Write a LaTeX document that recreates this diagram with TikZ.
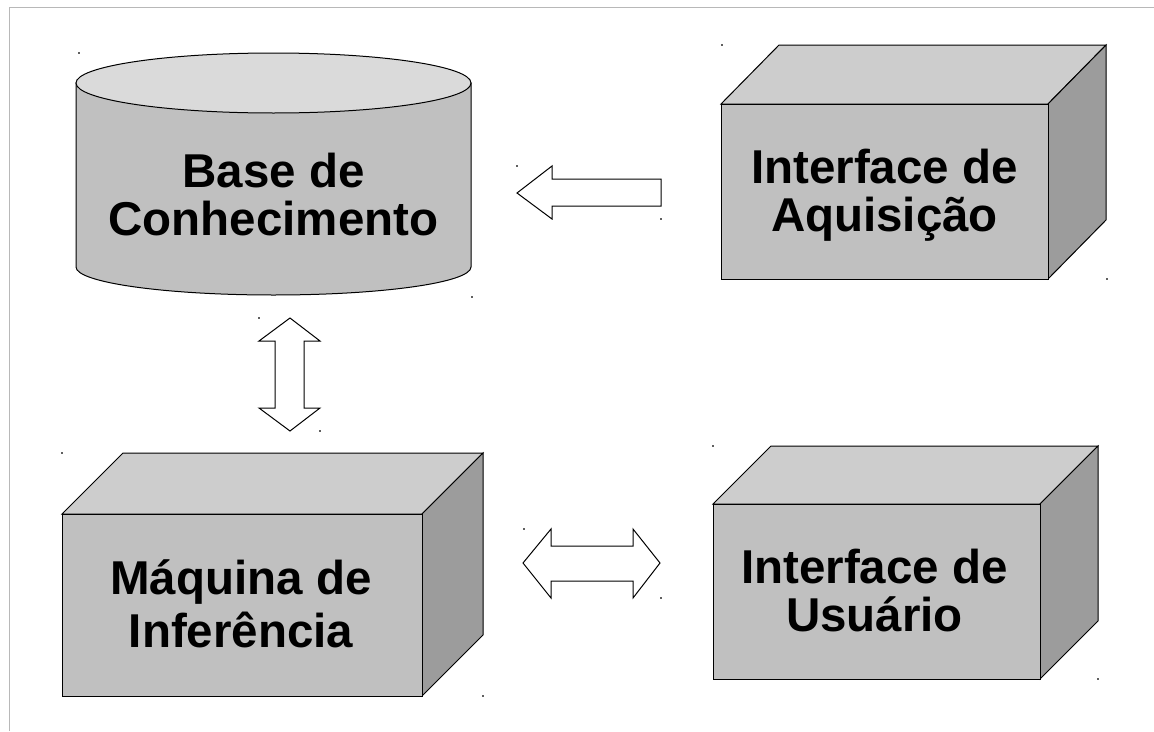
\documentclass[tikz,border=0pt]{standalone}
\usepackage{fontspec}
\setmainfont{Liberation Sans}
\definecolor{frontgray}{HTML}{C0C0C0}
\definecolor{topgray}{HTML}{CDCDCD}
\definecolor{sidegray}{HTML}{9C9C9C}
\definecolor{lidgray}{HTML}{DADADA}
\definecolor{framegray}{HTML}{B8B8B8}
\definecolor{markgray}{HTML}{606060}
\newcommand{\mycube}[6]{%
  % #1,#2 front top-left ; #3,#4 front bottom-right ; #5 dx ; #6 dy (up)
  \filldraw[shapeline,fill=topgray] (#1,#2) -- ({#1+#5},{#2-#6}) -- ({#3+#5},{#2-#6}) -- (#3,#2) -- cycle;
  \filldraw[shapeline,fill=sidegray] (#3,#2) -- ({#3+#5},{#2-#6}) -- ({#3+#5},{#4-#6}) -- (#3,#4) -- cycle;
  \filldraw[shapeline,fill=frontgray] (#1,#2) rectangle (#3,#4);
}
\newcommand{\mymark}[2]{\fill[markgray] ({#1-0.7},{#2-0.7}) rectangle ({#1+0.7},{#2+0.7});}
\begin{document}
\begin{tikzpicture}[x=1pt,y=-1pt,
  shapeline/.style={draw=black,line width=1pt,line join=miter},
  arrowshape/.style={draw=black,fill=white,line width=1pt,line join=miter},
  label/.style={font=\fontsize{47.5}{48}\selectfont\bfseries,align=center,anchor=base,inner sep=0pt},
  ]
\useasboundingbox (0,0) rectangle (1154,731);
\fill[white] (0,0) rectangle (1154,731);
% frame
\draw[framegray,line width=1.5pt] (9.5,731) -- (9.5,7.5) -- (1154,7.5);

% cylinder
\filldraw[shapeline,fill=frontgray] (76,83) -- (76,267)
  arc[start angle=180,end angle=360,x radius=197.5pt,y radius=28pt] -- (471,83) -- cycle;
\filldraw[shapeline,fill=lidgray] (273.5,83) ellipse[x radius=197.5pt,y radius=30pt];

% boxes
\mycube{721}{104}{1048}{279}{58}{59}
\mycube{62}{514}{422}{696}{61}{61}
\mycube{713}{504}{1040}{679}{58}{58}

% arrows
\filldraw[arrowshape] (517,193) -- (552,166) -- (552,179) -- (661,179) -- (661,206) -- (552,206) -- (552,219) -- cycle;
\filldraw[arrowshape] (290,318) -- (320,341) -- (304,341) -- (304,408) -- (320,408) -- (290,431)
  -- (259,408) -- (275,408) -- (275,341) -- (259,341) -- cycle;
\filldraw[arrowshape] (523,563) -- (551,529) -- (551,546) -- (633,546) -- (633,529) -- (660,563)
  -- (633,598) -- (633,581) -- (551,581) -- (551,598) -- cycle;

% labels (anchor base = baseline of the last line)
\node[label] (kb) at (273.5,235) {Base de\\Conhecimento};
\node[label] (ia) at (884.5,231.5) {Interface de\\Aquisição};
\node[label,font=\fontsize{47.5}{53}\selectfont\bfseries] (mi) at (241,647) {Máquina de\\Inferência};
\node[label] (iu) at (874.5,631.5) {Interface de\\Usuário};

% corner marks
\mymark{79}{53}\mymark{472}{297}
\mymark{517}{166}\mymark{661}{219}
\mymark{722}{45}\mymark{1107}{279}
\mymark{259}{318}\mymark{320}{431}
\mymark{62}{453}\mymark{483}{696}
\mymark{524}{529}\mymark{661}{598}
\mymark{713}{446}\mymark{1098}{679}
\end{tikzpicture}
\end{document}
